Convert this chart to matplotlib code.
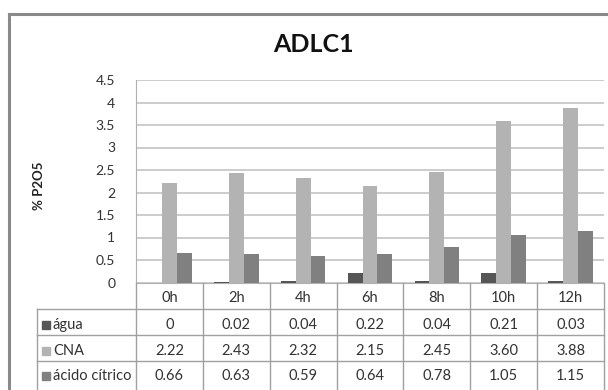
import matplotlib
matplotlib.use("Agg")
import matplotlib.pyplot as plt
import matplotlib.transforms as mtransforms
from matplotlib.lines import Line2D
from matplotlib.patches import Rectangle
import numpy as np

plt.rcParams['font.family'] = ['Lato', 'DejaVu Sans']

horas = ["0h", "2h", "4h", "6h", "8h", "10h", "12h"]
series = ["água", "CNA", "ácido cítrico"]
agua = [0, 0.02, 0.04, 0.22, 0.04, 0.21, 0.03]
cna = [2.22, 2.43, 2.32, 2.15, 2.45, 3.60, 3.88]
acido = [0.66, 0.63, 0.59, 0.64, 0.78, 1.05, 1.15]
cores = ["#565656", "#b3b3b3", "#808080"]

W, H = 608, 390
fig = plt.figure(figsize=(W / 100, H / 100), dpi=100)

def fy(y):
    # pixel from top -> figure fraction
    return 1 - y / H

ax_left, ax_right, ax_top, ax_bot = 136, 604, 80, 282.5
ax = fig.add_axes([ax_left / W, fy(ax_bot), (ax_right - ax_left) / W, (ax_bot - ax_top) / H])

x = np.arange(len(horas))
w = 0.222
for k, vals in enumerate([agua, cna, acido]):
    ax.bar(x + (k - 1) * w, vals, width=w, color=cores[k], zorder=3)

ax.set_xlim(-0.5, len(horas) - 0.5)
ax.set_ylim(0, 4.5)
ax.set_yticks(np.arange(0, 4.51, 0.5))
ax.set_yticklabels(["0", "0.5", "1", "1.5", "2", "2.5", "3", "3.5", "4", "4.5"])
ax.tick_params(axis='y', length=0, labelsize=10, colors="#333333", pad=15)
ax.set_xticks([])
ax.grid(axis='y', color="#c4c4c4", linewidth=1.2, zorder=0)
for s in ["top", "right"]:
    ax.spines[s].set_visible(False)
ax.spines["left"].set_color("#b0b0b0")
ax.spines["bottom"].set_color("#b0b0b0")

fig.text(313 / W, fy(44), "ADLC1", ha="center", va="center", fontsize=18, fontweight="bold", color="#111111")
fig.text(39 / W, fy(186), "% P2O5", ha="center", va="center", rotation=90, fontsize=9.5, fontweight="bold", color="#222222")

# data table under the axis
tr = mtransforms.blended_transform_factory(ax.transData, fig.transFigure)
line_c = "#a0a0a0"
rows_y = [308.5, 335, 361, 392]
text_y = [325, 351, 376]
tab_left = 37
fs = 10.5

for b in np.arange(-0.5, len(horas), 1.0):
    fig.add_artist(Line2D([b, b], [fy(ax_bot), fy(392)], transform=tr, color=line_c, lw=1))
for yy in rows_y[:-1]:
    fig.add_artist(Line2D([tab_left / W, ax_right / W], [fy(yy), fy(yy)], color=line_c, lw=1))
fig.add_artist(Line2D([tab_left / W, tab_left / W], [fy(rows_y[0]), fy(392)], color=line_c, lw=1))

for i, h in enumerate(horas):
    fig.text(i, fy(298), h, transform=tr, ha="center", va="center", fontsize=fs, color="#333333")

def fmt(v):
    return "0" if v == 0 else f"{v:.2f}"

for k, (nome, vals) in enumerate(zip(series, [agua, cna, acido])):
    yc = text_y[k]
    fig.add_artist(Rectangle((42 / W, fy(yc + 4)), 8 / W, 8 / H, color=cores[k]))
    fig.text(53 / W, fy(yc), nome, ha="left", va="center", fontsize=fs, color="#333333")
    for i, v in enumerate(vals):
        fig.text(i, fy(yc), fmt(v), transform=tr, ha="center", va="center", fontsize=fs, color="#333333")

# outer chart frame
fig.add_artist(Line2D([9 / W, 9 / W], [fy(14), fy(392)], color="#8a8a8a", lw=2.2))
fig.add_artist(Line2D([9 / W, 610 / W], [fy(14), fy(14)], color="#8a8a8a", lw=2.2))

fig.savefig("out.png", dpi=100)
